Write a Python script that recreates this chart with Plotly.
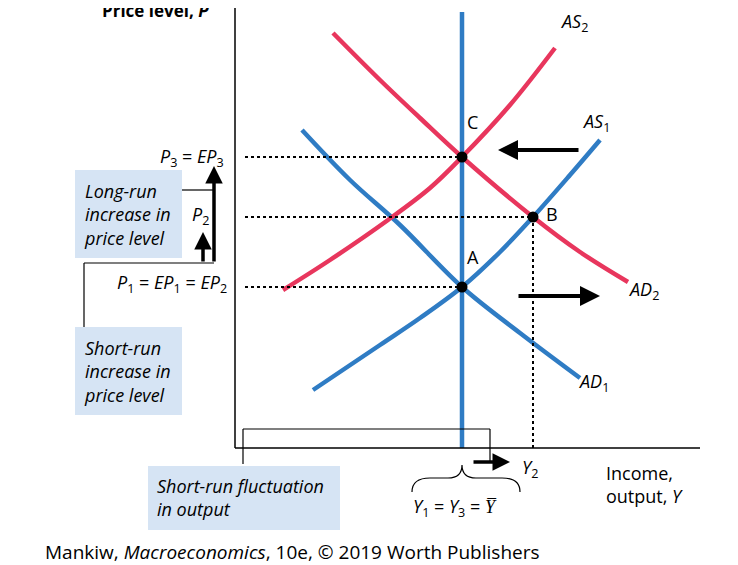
import plotly.graph_objects as go

# Curve points in the diagram's own coordinates (x to the right, y downward)
ad1_x = [302, 350, 400, 462, 520, 580]
ad1_y = [130, 180, 225, 287, 333, 378]
ad2_x = [333, 380, 420, 462, 533, 580, 628]
ad2_y = [33, 80, 118, 157, 217, 252, 282]
as1_x = [313, 380, 420, 462, 500, 533, 570, 600]
as1_y = [390, 345, 318, 287, 252, 217, 175, 140]
as2_x = [283, 330, 388, 430, 462, 510, 555]
as2_y = [290, 260, 220, 188, 157, 105, 48]
lras_x = [462, 462]
lras_y = [12, 448]
pt_names = ["C", "B", "A"]
pt_x = [462, 533, 462]
pt_y = [157, 217, 287]

BLUE = "#2f7cc4"
RED = "#e8365d"
BOX = "#d6e4f4"
FONT = "Open Sans"
# page body adds an 8px margin, so shift the visible range to compensate
OFF = 8

fig = go.Figure()
for xs, ys, c in [(ad1_x, ad1_y, BLUE), (as1_x, as1_y, BLUE), (lras_x, lras_y, BLUE),
                  (ad2_x, ad2_y, RED), (as2_x, as2_y, RED)]:
    fig.add_trace(go.Scatter(x=xs, y=ys, mode="lines", line=dict(color=c, width=4.5, shape="spline"),
                             hoverinfo="skip"))

# dotted guides
for px, py in zip(pt_x, pt_y):
    fig.add_trace(go.Scatter(x=[245, px], y=[py, py], mode="lines",
                             line=dict(color="black", width=2, dash="dot")))
fig.add_trace(go.Scatter(x=[533, 533], y=[217, 448], mode="lines",
                         line=dict(color="black", width=2, dash="dot")))
fig.add_trace(go.Scatter(x=pt_x, y=pt_y, mode="markers",
                         marker=dict(color="black", size=11)))

shapes = []
def line(x0, y0, x1, y1, w=1.2):
    shapes.append(dict(type="line", x0=x0, y0=y0, x1=x1, y1=y1, line=dict(color="black", width=w)))

# axes
line(235, 0, 235, 448, 1.5)
line(235, 448, 700, 448, 1.5)
# connectors
line(182, 190, 214, 190)
line(84, 327, 84, 263)
line(84, 263, 214, 263)
line(243, 464, 243, 429)
line(243, 429, 490, 429)
line(490, 429, 490, 463)
# boxes
for x0, y0, x1, y1 in [(75, 170, 182, 258), (75, 327, 182, 415), (148, 466, 340, 530)]:
    shapes.append(dict(type="rect", x0=x0, y0=y0, x1=x1, y1=y1, fillcolor=BOX,
                       line=dict(width=0), layer="below"))
# brace
shapes.append(dict(type="path", line=dict(color="black", width=1.2),
                   path="M 412 492 Q 412 478 430 478 L 448 478 Q 462 478 462 465 "
                        "Q 462 478 476 478 L 502 478 Q 520 478 520 492"))
fig.update_layout(shapes=shapes)

def arrow(x0, y0, x1, y1, w=4):
    fig.add_annotation(x=x1, y=y1, ax=x0, ay=y0, xref="x", yref="y", axref="x", ayref="y",
                       showarrow=True, arrowhead=2, arrowsize=1, arrowwidth=w,
                       arrowcolor="black", text="")

arrow(580, 150, 498, 150)
arrow(517, 296, 600, 296)
arrow(472, 462, 510, 462, 3.5)
arrow(214, 263, 214, 166, 3.5)
arrow(203, 263, 203, 232, 3.5)

def text(x, y, s, anchor="left", size=18):
    fig.add_annotation(x=x, y=y, text=s, showarrow=False, xanchor=anchor, yanchor="middle",
                       align=anchor if anchor != "center" else "center",
                       font=dict(family=FONT, size=size, color="black"))

text(100, 10, "<b>Price level, <i>P</i></b>", size=17)
text(558, 22, "<i>AS</i><sub>2</sub>")
text(580, 122, "<i>AS</i><sub>1</sub>")
text(465, 122, "C")
text(544, 214, "B")
text(465, 257, "A")
text(626, 290, "<i>AD</i><sub>2</sub>")
text(576, 382, "<i>AD</i><sub>1</sub>")
text(226, 157, "<i>P</i><sub>3</sub> = <i>EP</i><sub>3</sub>", "right")
text(211, 215, "<i>P</i><sub>2</sub>", "right")
text(229, 283, "<i>P</i><sub>1</sub> = <i>EP</i><sub>1</sub> = <i>EP</i><sub>2</sub>", "right")
text(82, 214, "<i>Long-run<br>increase in<br>price level</i>")
text(82, 371, "<i>Short-run<br>increase in<br>price level</i>")
text(155, 497, "<i>Short-run fluctuation<br>in output</i>")
text(520, 468, "<i>Y</i><sub>2</sub>")
text(455, 507, "<i>Y</i><sub>1</sub> = <i>Y</i><sub>3</sub> = <i>Y\u0305</i>", "center")
text(604, 484, "Income,<br>output, <i>Y</i>")
text(43, 552, "Mankiw, <i>Macroeconomics</i>, 10e, © 2019 Worth Publishers", size=19)

fig.update_layout(
    width=738, height=565, margin=dict(l=0, r=0, t=0, b=0),
    plot_bgcolor="white", paper_bgcolor="white", showlegend=False,
    xaxis=dict(range=[OFF, 738 + OFF], visible=False, fixedrange=True),
    yaxis=dict(range=[565 + OFF, OFF], visible=False, fixedrange=True),
)
fig.write_html("out.html")
